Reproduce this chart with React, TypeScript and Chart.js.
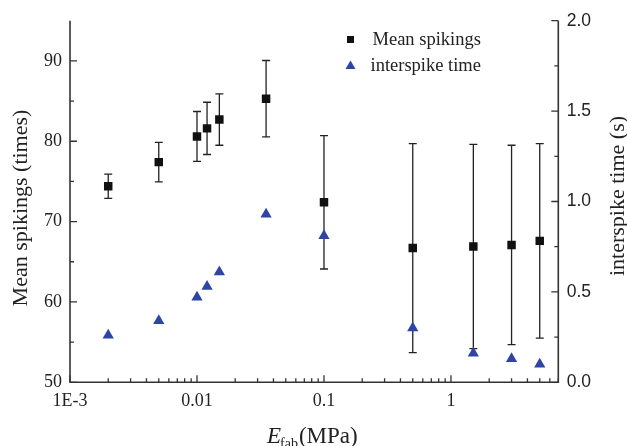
import React, { useEffect, useRef } from "react";
import { Chart, registerables } from "chart.js";
Chart.register(...registerables);

const modulus = [0.002, 0.005, 0.01, 0.012, 0.015, 0.035, 0.1, 0.5, 1.5, 3, 5];
const meanSpikings = [74.4, 77.4, 80.6, 81.6, 82.7, 85.3, 72.4, 66.7, 66.9, 67.1, 67.6];
const spikingsError = [1.5, 2.45, 3.1, 3.25, 3.2, 4.75, 8.3, 13, 12.7, 12.4, 12.1];
const interspikeTime = [0.26, 0.34, 0.47, 0.53, 0.61, 0.93, 0.81, 0.3, 0.16, 0.13, 0.1];
const xTicks = [0.001, 0.01, 0.1, 1];
const xTickLabels = ["1E-3", "0.01", "0.1", "1"];
const leftTicks = [50, 60, 70, 80, 90];
const leftMinorTicks = [55, 65, 75, 85];
const rightTicks = [0, 0.5, 1, 1.5, 2];
const rightMinorTicks = [0.25, 0.75, 1.25, 1.75];

const SERIF = "'Liberation Serif', 'Times New Roman', serif";
const SANS = "'Liberation Sans', Arial, sans-serif";
const INK = "#222";
const BLUE = "#2E45A6";

const decorPlugin = {
  id: "decor",
  beforeDatasetsDraw(chart: any) {
    const ctx = chart.ctx;
    const xs = chart.scales.x;
    const ys = chart.scales.y;
    ctx.save();
    ctx.strokeStyle = INK;
    ctx.lineWidth = 1.3;
    modulus.forEach((m, i) => {
      const px = xs.getPixelForValue(m);
      const top = ys.getPixelForValue(meanSpikings[i] + spikingsError[i]);
      const bot = ys.getPixelForValue(meanSpikings[i] - spikingsError[i]);
      ctx.beginPath();
      ctx.moveTo(px, top);
      ctx.lineTo(px, bot);
      ctx.moveTo(px - 4, top);
      ctx.lineTo(px + 4, top);
      ctx.moveTo(px - 4, bot);
      ctx.lineTo(px + 4, bot);
      ctx.stroke();
    });
    ctx.restore();
  },
  afterDraw(chart: any) {
    const ctx = chart.ctx;
    const { left, right, top, bottom } = chart.chartArea;
    const xs = chart.scales.x;
    const ys = chart.scales.y;
    const y1 = chart.scales.y1;
    ctx.save();
    ctx.strokeStyle = "#333";
    ctx.lineWidth = 1.6;
    ctx.beginPath();
    ctx.moveTo(left, top);
    ctx.lineTo(left, bottom);
    ctx.lineTo(right, bottom);
    ctx.lineTo(right, top);
    ctx.stroke();

    ctx.lineWidth = 1.3;
    ctx.beginPath();
    leftTicks.forEach((v) => {
      const p = ys.getPixelForValue(v);
      ctx.moveTo(left, p);
      ctx.lineTo(left + 7, p);
    });
    leftMinorTicks.forEach((v) => {
      const p = ys.getPixelForValue(v);
      ctx.moveTo(left, p);
      ctx.lineTo(left + 4, p);
    });
    rightTicks.forEach((v) => {
      const p = y1.getPixelForValue(v);
      ctx.moveTo(right, p);
      ctx.lineTo(right - 7, p);
    });
    rightMinorTicks.forEach((v) => {
      const p = y1.getPixelForValue(v);
      ctx.moveTo(right, p);
      ctx.lineTo(right - 4, p);
    });
    for (let d = 0.001; d < 10; d *= 10) {
      for (let k = 1; k < 10; k++) {
        const v = d * k;
        if (v > 7.0001) break;
        const p = xs.getPixelForValue(v);
        ctx.moveTo(p, bottom);
        ctx.lineTo(p, bottom - (k === 1 ? 7 : 4));
      }
    }
    ctx.stroke();

    // legend
    ctx.fillStyle = "#111";
    ctx.fillRect(347, 36, 7, 7);
    ctx.fillStyle = BLUE;
    ctx.beginPath();
    ctx.moveTo(350.5, 60.5);
    ctx.lineTo(355.5, 69);
    ctx.lineTo(345.5, 69);
    ctx.closePath();
    ctx.fill();
    ctx.fillStyle = INK;
    ctx.font = `18.5px ${SERIF}`;
    ctx.textBaseline = "alphabetic";
    ctx.textAlign = "left";
    ctx.fillText("Mean spikings", 372.5, 45);
    ctx.fillText("interspike time", 370.5, 71);

    // axis titles
    ctx.font = `22px ${SERIF}`;
    ctx.textAlign = "center";
    ctx.textBaseline = "middle";
    ctx.save();
    ctx.translate(21, 208);
    ctx.rotate(-Math.PI / 2);
    ctx.fillText("Mean spikings (times)", 0, 0);
    ctx.restore();
    ctx.save();
    ctx.translate(618, 196);
    ctx.rotate(-Math.PI / 2);
    ctx.fillText("interspike time (s)", 0, 0);
    ctx.restore();

    // x title: E_fab(MPa)
    ctx.textAlign = "left";
    ctx.textBaseline = "alphabetic";
    let x = 267;
    const base = 443;
    ctx.font = `italic 23px ${SERIF}`;
    ctx.fillText("E", x, base);
    x += ctx.measureText("E").width;
    ctx.font = `14px ${SERIF}`;
    ctx.fillText("fab", x - 1, base + 5);
    x += ctx.measureText("fab").width;
    ctx.font = `23px ${SERIF}`;
    ctx.fillText("(MPa)", x, base);
    ctx.restore();
  },
};

export default function App() {
  const ref = useRef<HTMLCanvasElement>(null);
  useEffect(() => {
    if (!ref.current) return;
    const chart = new Chart(ref.current, {
      type: "scatter",
      data: {
        datasets: [
          {
            label: "Mean spikings",
            data: modulus.map((m, i) => ({ x: m, y: meanSpikings[i] })),
            yAxisID: "y",
            pointStyle: "rect",
            pointRadius: 6,
            backgroundColor: "#111",
            borderColor: "#111",
            borderWidth: 0,
          },
          {
            label: "interspike time",
            data: modulus.map((m, i) => ({ x: m, y: interspikeTime[i] })),
            yAxisID: "y1",
            pointStyle: "triangle",
            pointRadius: 6.5,
            backgroundColor: BLUE,
            borderColor: BLUE,
            borderWidth: 0,
          },
        ],
      },
      options: {
        animation: false,
        responsive: true,
        maintainAspectRatio: false,
        layout: { padding: { top: 20.7, left: 0, right: 0, bottom: 0 } },
        plugins: { legend: { display: false }, tooltip: { enabled: false } },
        scales: {
          x: {
            type: "logarithmic",
            position: "bottom",
            min: 0.001,
            max: 7,
            grid: { display: false, drawTicks: false },
            border: { display: false },
            afterBuildTicks: (s: any) => {
              s.ticks = xTicks.map((v) => ({ value: v }));
            },
            afterFit: (s: any) => {
              s.height = 63.7;
            },
            ticks: {
              autoSkip: false,
              maxRotation: 0,
              padding: 8,
              color: INK,
              font: { family: SERIF, size: 18 },
              callback: (v: any, i: number) => xTickLabels[i],
            },
          },
          y: {
            type: "linear",
            position: "left",
            min: 50,
            max: 95,
            grid: { display: false, drawTicks: false },
            border: { display: false },
            afterBuildTicks: (s: any) => {
              s.ticks = leftTicks.map((v) => ({ value: v }));
            },
            afterFit: (s: any) => {
              s.width = 70;
            },
            ticks: {
              padding: 8,
              color: INK,
              font: { family: SERIF, size: 18 },
            },
          },
          y1: {
            type: "linear",
            position: "right",
            min: 0,
            max: 2,
            grid: { display: false, drawTicks: false },
            border: { display: false },
            afterBuildTicks: (s: any) => {
              s.ticks = rightTicks.map((v) => ({ value: v }));
            },
            afterFit: (s: any) => {
              s.width = 68.7;
            },
            ticks: {
              padding: 8.4,
              color: INK,
              font: { family: SANS, size: 17.5 },
              callback: (v: any) => Number(v).toFixed(1),
            },
          },
        },
      },
      plugins: [decorPlugin],
    });
    return () => chart.destroy();
  }, []);
  return (
    <div style={{ position: "fixed", left: 0, top: 0, width: 627, height: 446, background: "#fff" }}>
      <canvas ref={ref} />
    </div>
  );
}
